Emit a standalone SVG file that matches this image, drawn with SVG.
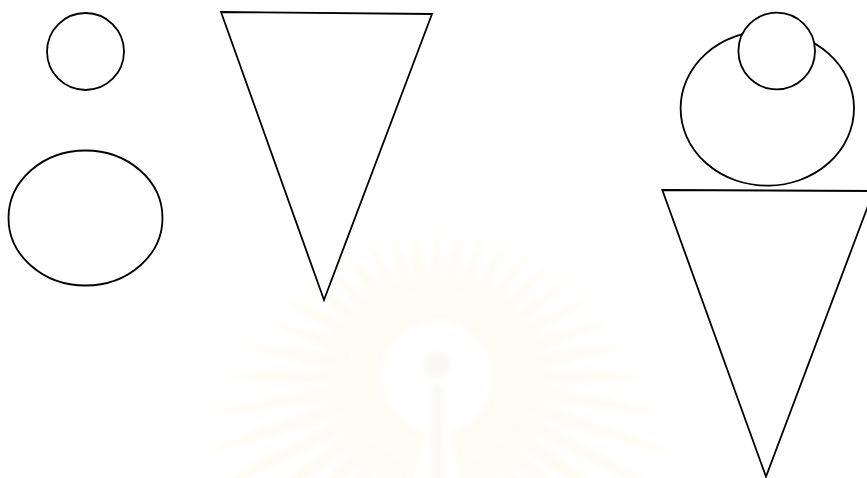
<svg xmlns="http://www.w3.org/2000/svg" width="867" height="478" viewBox="0 0 867 478">
  <style>
    .shape { fill: #ffffff; stroke: #000000; stroke-width: 1.8; stroke-linejoin: miter; }
    .ray { fill: #f2e6bd; }
  </style>
  <defs>
    <filter id="soft" x="-20%" y="-20%" width="140%" height="140%">
      <feGaussianBlur stdDeviation="3"/>
    </filter>
    <path id="petal" d="M0,-7 C40,-9 70,-6 100,0 C70,6 40,9 0,7 Z"/>
  </defs>
  <rect x="0" y="0" width="867" height="478" fill="#ffffff"/>

  <g id="watermark" opacity="0.15" filter="url(#soft)" transform="translate(437,377)">
    <g class="ray">
      <use href="#petal" transform="rotate(-90) translate(55,0) scale(0.92,1)"/>
      <use href="#petal" transform="rotate(-81) translate(55,0) scale(0.93,1)"/>
      <use href="#petal" transform="rotate(-99) translate(55,0) scale(0.93,1)"/>
      <use href="#petal" transform="rotate(-72) translate(55,0) scale(0.95,1)"/>
      <use href="#petal" transform="rotate(-108) translate(55,0) scale(0.95,1)"/>
      <use href="#petal" transform="rotate(-63) translate(55,0) scale(0.98,1)"/>
      <use href="#petal" transform="rotate(-117) translate(55,0) scale(0.98,1)"/>
      <use href="#petal" transform="rotate(-54) translate(55,0) scale(1.02,1)"/>
      <use href="#petal" transform="rotate(-126) translate(55,0) scale(1.02,1)"/>
      <use href="#petal" transform="rotate(-45) translate(55,0) scale(1.06,1)"/>
      <use href="#petal" transform="rotate(-135) translate(55,0) scale(1.06,1)"/>
      <use href="#petal" transform="rotate(-36) translate(55,0) scale(1.10,1)"/>
      <use href="#petal" transform="rotate(-144) translate(55,0) scale(1.10,1)"/>
      <use href="#petal" transform="rotate(-27) translate(55,0) scale(1.17,1)"/>
      <use href="#petal" transform="rotate(-153) translate(55,0) scale(1.17,1)"/>
      <use href="#petal" transform="rotate(-18) translate(55,0) scale(1.28,1)"/>
      <use href="#petal" transform="rotate(-162) translate(55,0) scale(1.28,1)"/>
      <use href="#petal" transform="rotate(-9) translate(55,0) scale(1.42,1)"/>
      <use href="#petal" transform="rotate(-171) translate(55,0) scale(1.42,1)"/>
      <use href="#petal" transform="rotate(0) translate(55,0) scale(1.59,1)"/>
      <use href="#petal" transform="rotate(180) translate(55,0) scale(1.59,1)"/>
      <use href="#petal" transform="rotate(9) translate(55,0) scale(1.80,1)"/>
      <use href="#petal" transform="rotate(171) translate(55,0) scale(1.80,1)"/>
      <use href="#petal" transform="rotate(18) translate(55,0) scale(2.00,1)"/>
      <use href="#petal" transform="rotate(162) translate(55,0) scale(2.00,1)"/>
      <use href="#petal" transform="rotate(27) translate(55,0) scale(2.15,1)"/>
      <use href="#petal" transform="rotate(153) translate(55,0) scale(2.15,1)"/>
      <use href="#petal" transform="rotate(36) translate(55,0) scale(2.25,1)"/>
      <use href="#petal" transform="rotate(144) translate(55,0) scale(2.25,1)"/>
      <use href="#petal" transform="rotate(45) translate(55,0) scale(2.30,1)"/>
      <use href="#petal" transform="rotate(135) translate(55,0) scale(2.30,1)"/>
      <use href="#petal" transform="rotate(54) translate(55,0) scale(2.35,1)"/>
      <use href="#petal" transform="rotate(126) translate(55,0) scale(2.35,1)"/>
      <use href="#petal" transform="rotate(63) translate(55,0) scale(2.35,1)"/>
      <use href="#petal" transform="rotate(117) translate(55,0) scale(2.35,1)"/>
      <use href="#petal" transform="rotate(72) translate(55,0) scale(2.35,1)"/>
      <use href="#petal" transform="rotate(108) translate(55,0) scale(2.35,1)"/>
    </g>
    <circle cx="0" cy="-12" r="13" fill="#d8d2bc"/>
    <rect x="-5" y="8" width="10" height="100" fill="#d8d2bc"/>
  </g>

  <g id="circle-small-left">
    <circle class="shape" cx="85.5" cy="51.5" r="38.5"/>
  </g>
  <g id="ellipse-left">
    <ellipse class="shape" cx="85.5" cy="218" rx="77" ry="67.5"/>
  </g>
  <g id="triangle-middle">
    <polygon class="shape" points="221,12 432,14 324,300"/>
  </g>
  <g id="ellipse-right">
    <ellipse class="shape" cx="767.3" cy="108.3" rx="86.7" ry="77.4"/>
  </g>
  <g id="circle-small-right">
    <circle class="shape" cx="776.7" cy="51" r="38.3"/>
  </g>
  <g id="triangle-right">
    <polygon class="shape" points="662.3,190 873.6,191 766,476.7"/>
  </g>
</svg>
